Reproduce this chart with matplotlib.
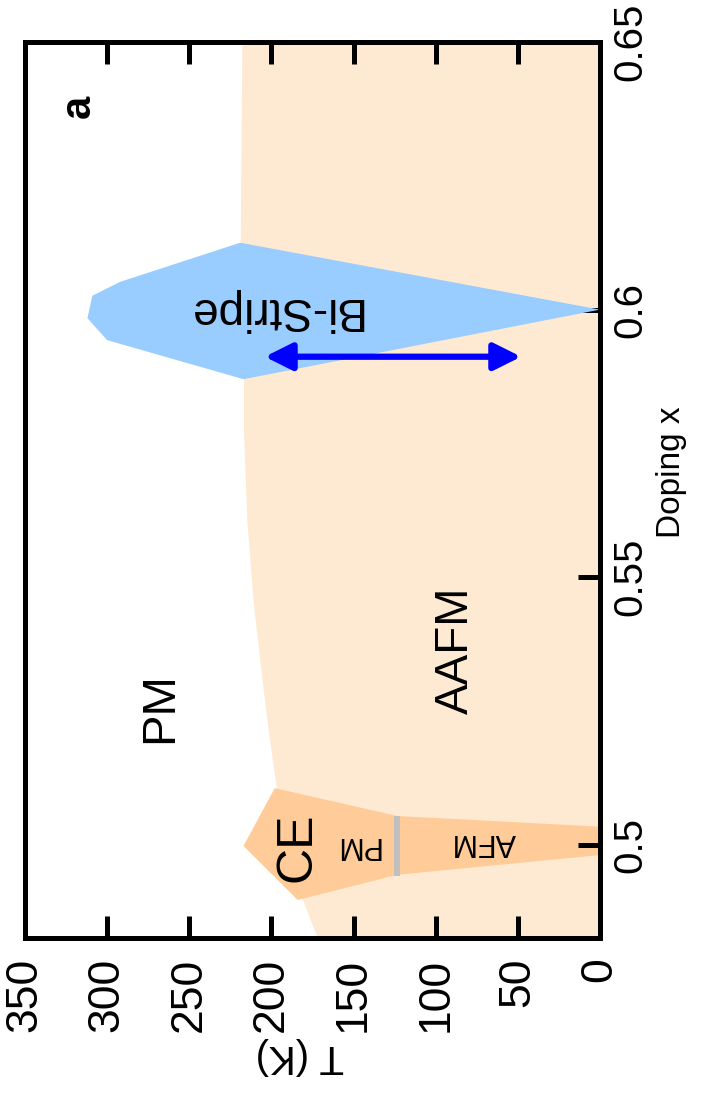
import matplotlib
matplotlib.use("Agg")
import matplotlib.pyplot as plt
from matplotlib import font_manager

# -----------------------------
# fonts: narrow face for the rotated labels if it exists
# -----------------------------
names = {f.name for f in font_manager.fontManager.ttflist}
NARROW = "Liberation Sans Narrow" if "Liberation Sans Narrow" in names else "Liberation Sans"
REG = "Liberation Sans"
plt.rcParams["font.family"] = [REG, "DejaVu Sans"]

# -----------------------------
# data (T in K, doping x)
# -----------------------------
aafm_doping = [0.4826, 0.4897, 0.5106, 0.5215, 0.529, 0.545, 0.5607, 0.5772, 0.587, 0.6125, 0.65]
aafm_T = [172, 181, 197, 202, 205, 211, 215, 217, 217, 219, 218]

stripe_T = [0, 219, 292, 309, 312, 300, 217, 0]
stripe_doping = [0.600, 0.6125, 0.6052, 0.6026, 0.5984, 0.5943, 0.5870, 0.600]

ce_T = [0, 123.5, 198, 217, 184, 123.5, 0]
ce_doping = [0.5034, 0.5054, 0.5106, 0.4998, 0.4897, 0.4944, 0.4981]

ce_split_T = 123.5
ce_split_doping = [0.4942, 0.5054]

arrow_T = [204, 48]
arrow_doping = 0.5912

T_ticks = [0, 50, 100, 150, 200, 250, 300, 350]
doping_ticks = [0.5, 0.55, 0.6, 0.65]
doping_ticklabels = ["0.5", "0.55", "0.6", "0.65"]

# -----------------------------
# figure (drawn already turned: doping goes up, T goes left)
# -----------------------------
fig = plt.figure(figsize=(7.02, 11.03), dpi=100)
ax = fig.add_axes([25 / 702, 1 - 938 / 1103, 575 / 702, 896 / 1103])

ax.fill_betweenx(aafm_doping, 0, aafm_T, color="#FEEAD2", lw=0, zorder=1)
ax.fill(ce_T, ce_doping, color="#FFCC99", lw=0, zorder=1.5)
ax.plot([ce_split_T, ce_split_T], ce_split_doping, color="#C0C0C0", lw=4.3,
        solid_capstyle="butt", zorder=1.6)
ax.fill(stripe_T, stripe_doping, color="#99CCFF", lw=0, zorder=2.6)

ax.annotate("", xy=(arrow_T[1], arrow_doping), xytext=(arrow_T[0], arrow_doping),
            arrowprops=dict(arrowstyle="<|-|>,head_length=0.4,head_width=0.2",
                            color="#0000FF", lw=4.5, mutation_scale=41,
                            shrinkA=0, shrinkB=0),
            zorder=3)

# labels inside the diagram
ax.text(317, 0.6379, "a", rotation=90, fontsize=30, fontweight="bold",
        ha="center", va="center", family=[NARROW, REG])
ax.text(268, 0.5256, "PM", rotation=90, fontsize=34, ha="center", va="center",
        family=[NARROW, REG])
ax.text(88, 0.5364, "AAFM", rotation=90, fontsize=33, ha="center", va="center",
        family=[NARROW, REG])
ax.text(184, 0.4996, "CE", rotation=90, fontsize=36, ha="center", va="center",
        family=[NARROW, REG])
ax.text(148, 0.5000, "PM", rotation=180, fontsize=22, ha="center", va="center", zorder=4)
ax.text(71, 0.5006, "AFM", rotation=180, fontsize=22, ha="center", va="center", zorder=4)
ax.text(199, 0.6000, "Bi-Stripe", rotation=180, fontsize=33, ha="center", va="center",
        zorder=4)

# axes
ax.set_xlim(350, 0)
ax.set_ylim(0.4826, 0.65)

ax.set_xticks(T_ticks)
ax.set_xticklabels([str(t) for t in T_ticks], rotation=90, fontsize=32,
                   family=[NARROW, REG])
ax.tick_params(axis="x", direction="in", length=16, width=3.6, top=True,
               bottom=True, pad=14)

ax.yaxis.tick_right()
ax.set_yticks(doping_ticks)
ax.set_yticklabels(doping_ticklabels, rotation=90, fontsize=29, va="center",
                   family=[NARROW, REG])
ax.tick_params(axis="y", direction="in", length=16, width=3.6, left=False,
               right=True, pad=8)

ax.text(1.125, 0.52, "Doping x", rotation=90, fontsize=24, ha="center", va="center",
        transform=ax.transAxes, family=[NARROW, REG])
ax.text(0.478, -0.132, "T (K)", rotation=180, fontsize=29, ha="center", va="center",
        transform=ax.transAxes)

for s in ax.spines.values():
    s.set_linewidth(3.6)
    s.set_zorder(4)

fig.savefig("out.png", dpi=100)
